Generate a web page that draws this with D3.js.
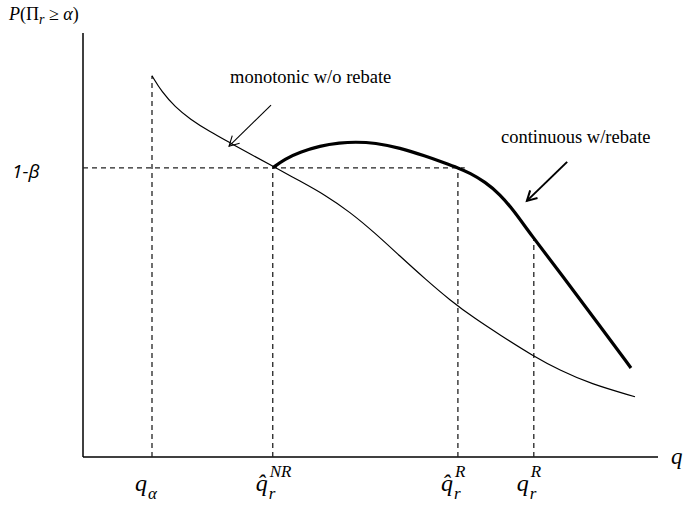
<!DOCTYPE html>
<html lang="en">
  <head>
    <meta charset="UTF-8" />
    <title>P(Pi_r >= alpha)</title>
    <style>
      body { margin: 0; background: #fff; }
      svg { display: block; }
    </style>
  </head>
  <body>
    <svg width="684" height="506"></svg>
    <script src="https://cdn.jsdelivr.net/npm/d3@7"></script>
    <script>
      // abstract units: q in [0,100] along the axis, probability in [0,100] up the axis
      const thinQ = [12.0, 13.7, 16.0, 18.6, 22.1, 25.6, 29.0, 33.0, 37.7, 42.1, 46.4, 50.8, 55.1,
        59.5, 63.8, 68.2, 72.5, 78.3, 83.0, 88.2, 96.0];
      const thinP = [89.9, 86.1, 82.6, 79.7, 76.7, 74.1, 71.5, 68.6, 65.1, 61.8, 57.8, 52.8, 47.4,
        42.0, 37.0, 32.6, 28.8, 23.8, 20.4, 17.3, 14.2];

      const thickQ = [33.0, 35.1, 37.7, 41.2, 44.7, 47.3, 50.8, 55.1, 59.5, 63.0, 65.2, 67.3, 69.9,
        72.5, 75.1, 77.7, 83.5, 89.4, 95.3];
      const thickP = [68.2, 70.3, 71.9, 73.4, 74.1, 74.3, 74.1, 72.9, 71.0, 69.3, 68.2, 67.0, 64.9,
        62.0, 57.8, 52.8, 42.5, 31.8, 21.0];

      const level = 68.2;           // 1-beta
      const levelEnd = 66.4;        // where the horizontal guide stops
      const markerQ = [12.0, 33.0, 65.2, 78.4];
      const markerTop = [89.9, 68.2, 68.2, 51.2];

      const arrowFrom = [[32.7, 83.0], [84.2, 69.6]];
      const arrowTo = [[25.4, 73.3], [77.2, 60.4]];

      const SERIF = "'Liberation Serif', 'Times New Roman', 'DejaVu Serif', serif";

      const svg = d3.select('svg');
      const x = d3.scaleLinear().domain([0, 100]).range([83, 658]);
      const y = d3.scaleLinear().domain([0, 100]).range([457, 33]);

      const line = d3.line().x((d) => x(d[0])).y((d) => y(d[1])).curve(d3.curveBasis);

      // axes (bare lines, no ticks)
      svg.append('line').attr('x1', x(0)).attr('x2', x(0)).attr('y1', y(100)).attr('y2', y(0))
        .attr('stroke', '#000').attr('stroke-width', 1.5);
      svg.append('line').attr('x1', x(0)).attr('x2', x(100)).attr('y1', y(0)).attr('y2', y(0))
        .attr('stroke', '#000').attr('stroke-width', 1.5);

      // dashed guides
      const dash = '5,4';
      svg.append('line').attr('x1', x(0)).attr('x2', x(levelEnd)).attr('y1', y(level)).attr('y2', y(level))
        .attr('stroke', '#222').attr('stroke-width', 1.3).attr('stroke-dasharray', dash);
      markerQ.forEach((q, i) => {
        svg.append('line').attr('x1', x(q)).attr('x2', x(q)).attr('y1', y(0)).attr('y2', y(markerTop[i]))
          .attr('stroke', '#222').attr('stroke-width', 1.3).attr('stroke-dasharray', dash);
      });

      // curves
      svg.append('path').datum(thinQ.map((q, i) => [q, thinP[i]]))
        .attr('d', line).attr('fill', 'none').attr('stroke', '#000').attr('stroke-width', 1.2);
      svg.append('path').datum(thickQ.map((q, i) => [q, thickP[i]]))
        .attr('d', line).attr('fill', 'none').attr('stroke', '#000').attr('stroke-width', 3.2);

      // arrows with open heads
      arrowFrom.forEach((f, i) => {
        const t = arrowTo[i];
        const x1 = x(f[0]), y1 = y(f[1]), x2 = x(t[0]), y2 = y(t[1]);
        const sw = i === 0 ? 1.1 : 2;
        svg.append('line').attr('x1', x1).attr('y1', y1).attr('x2', x2).attr('y2', y2)
          .attr('stroke', '#000').attr('stroke-width', sw);
        const ang = Math.atan2(y2 - y1, x2 - x1);
        const len = 11, spread = 0.5;
        const p1 = [x2 - len * Math.cos(ang - spread), y2 - len * Math.sin(ang - spread)];
        const p2 = [x2 - len * Math.cos(ang + spread), y2 - len * Math.sin(ang + spread)];
        svg.append('path').attr('d', `M${p1}L${x2},${y2}L${p2}`)
          .attr('fill', 'none').attr('stroke', '#000').attr('stroke-width', sw);
      });

      // y label
      const yl = svg.append('text').attr('font-family', SERIF).attr('x', 9).attr('y', 20).attr('font-size', 18);
      yl.append('tspan').attr('font-style', 'italic').text('P');
      yl.append('tspan').text('(Π');
      yl.append('tspan').attr('font-style', 'italic').attr('font-size', 14).attr('dy', 4).text('r');
      yl.append('tspan').attr('dy', -4).text(' ≥ ');
      yl.append('tspan').attr('font-style', 'italic').text('α');
      yl.append('tspan').text(')');

      svg.append('text').attr('x', 12).attr('y', 178)
        .attr('font-family', "'Open Sans', 'Liberation Sans', sans-serif").attr('font-style', 'italic')
        .attr('font-size', 19).text('1-β');

      svg.append('text').attr('font-family', SERIF).attr('x', 230).attr('y', 83).attr('font-size', 18.5)
        .text('monotonic w/o rebate');
      svg.append('text').attr('font-family', SERIF).attr('x', 501).attr('y', 143).attr('font-size', 18.5)
        .text('continuous w/rebate');

      svg.append('text').attr('font-family', SERIF).attr('font-style', 'italic')
        .attr('x', 671).attr('y', 464).attr('font-size', 23).text('q');

      // axis labels under markers
      function qLabel(qx, hat, sub, sup) {
        const g = svg.append('g').attr('font-family', SERIF).attr('font-style', 'italic');
        const bx = x(qx) - 17;
        g.append('text').attr('x', bx).attr('y', 491).attr('font-size', 24).text(hat ? 'q\u0302' : 'q');
        if (sub) {
          g.append('text').attr('x', bx + 13).attr('y', 499).attr('font-size', 17).text(sub);
        }
        if (sup) {
          g.append('text').attr('x', bx + 14).attr('y', 477).attr('font-size', 17).text(sup);
        }
      }
      qLabel(markerQ[0], false, 'α', null);
      qLabel(markerQ[1], true, 'r', 'NR');
      qLabel(markerQ[2], true, 'r', 'R');
      qLabel(markerQ[3], false, 'r', 'R');
    </script>
  </body>
</html>
